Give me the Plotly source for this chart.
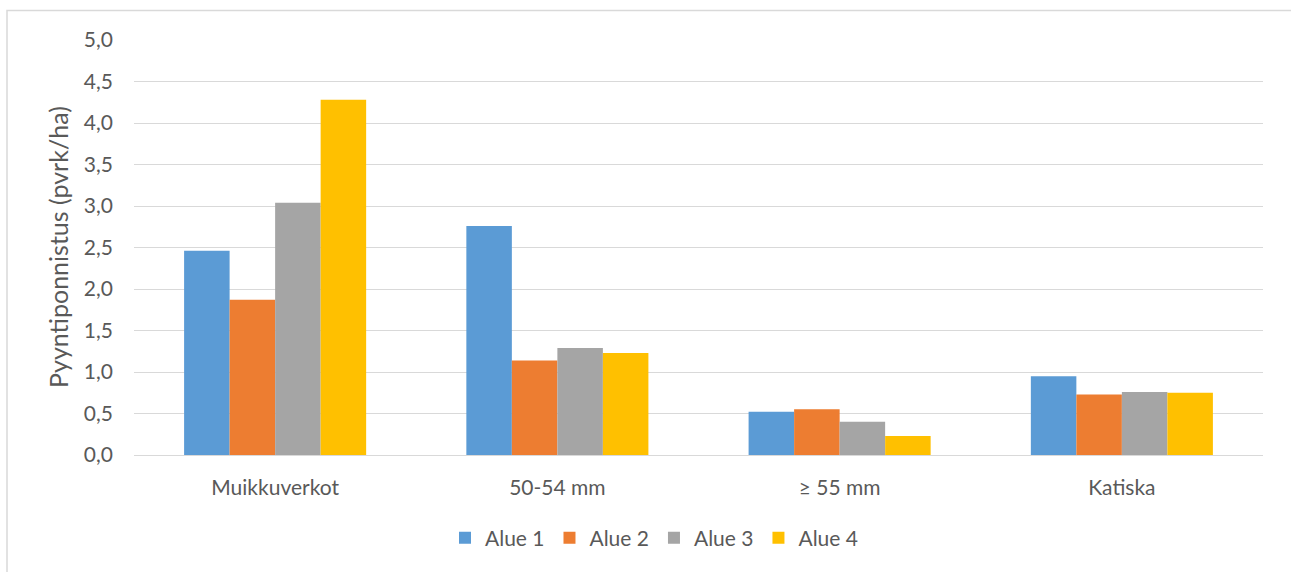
import plotly.graph_objects as go

categories = ["Muikkuverkot", "50-54 mm", "≥ 55 mm", "Katiska"]
series_names = ["Alue 1", "Alue 2", "Alue 3", "Alue 4"]
alue1 = [2.46, 2.76, 0.52, 0.95]
alue2 = [1.87, 1.14, 0.55, 0.73]
alue3 = [3.04, 1.29, 0.40, 0.76]
alue4 = [4.28, 1.23, 0.23, 0.75]
colors = ["#5B9BD5", "#ED7D31", "#A5A5A5", "#FFC000"]
y_ticks = [0, 0.5, 1.0, 1.5, 2.0, 2.5, 3.0, 3.5, 4.0, 4.5, 5.0]

W, H = 1291, 572
L, R, T, B = 134, 28, 40, 117
pw, ph = W - L - R, H - T - B

font = "Lato, 'Open Sans', sans-serif"
txt = "#595959"

fig = go.Figure()
for name, vals, c in zip(series_names, [alue1, alue2, alue3, alue4], colors):
    fig.add_trace(go.Bar(x=categories, y=vals, name=name, marker=dict(color=c, line=dict(width=0))))

def px_x(p):
    return (p - L) / pw

def px_y(p):
    return (H - B - p) / ph

fig.update_layout(
    width=W, height=H,
    margin=dict(l=L, r=R, t=T, b=B),
    paper_bgcolor="white", plot_bgcolor="white",
    separators=",.",
    barmode="group", bargap=0.355, bargroupgap=0,
    font=dict(family=font, color=txt, size=16),
    showlegend=True,
    legend=dict(orientation="h", x=px_x(654), xanchor="center", y=px_y(538), yanchor="middle",
                font=dict(size=21, color=txt), itemwidth=30, traceorder="normal"),
    xaxis=dict(showgrid=False, showline=False, ticks="", tickfont=dict(size=21, color=txt),
               ticklabelstandoff=18),
    yaxis=dict(range=[0, 5.0], tickvals=y_ticks, tickformat=".1f",
               showgrid=True, gridcolor="#D9D9D9", gridwidth=1,
               zeroline=True, zerolinecolor="#D9D9D9", zerolinewidth=1,
               showline=False, ticks="", ticklen=0,
               tickfont=dict(size=21, color=txt), ticklabelstandoff=20),
    annotations=[dict(text="Pyyntiponnistus (pvrk/ha)", xref="paper", yref="paper",
                      x=px_x(58), y=px_y(247), xanchor="center", yanchor="middle",
                      textangle=-90, showarrow=False, font=dict(size=25, color=txt))],
    shapes=[dict(type="rect", xref="paper", yref="paper",
                 x0=px_x(7), x1=px_x(1300), y0=px_y(590), y1=px_y(10.5),
                 line=dict(color="#D9D9D9", width=1.5), fillcolor="rgba(0,0,0,0)", layer="below")],
)

fig.write_html("out.html")
